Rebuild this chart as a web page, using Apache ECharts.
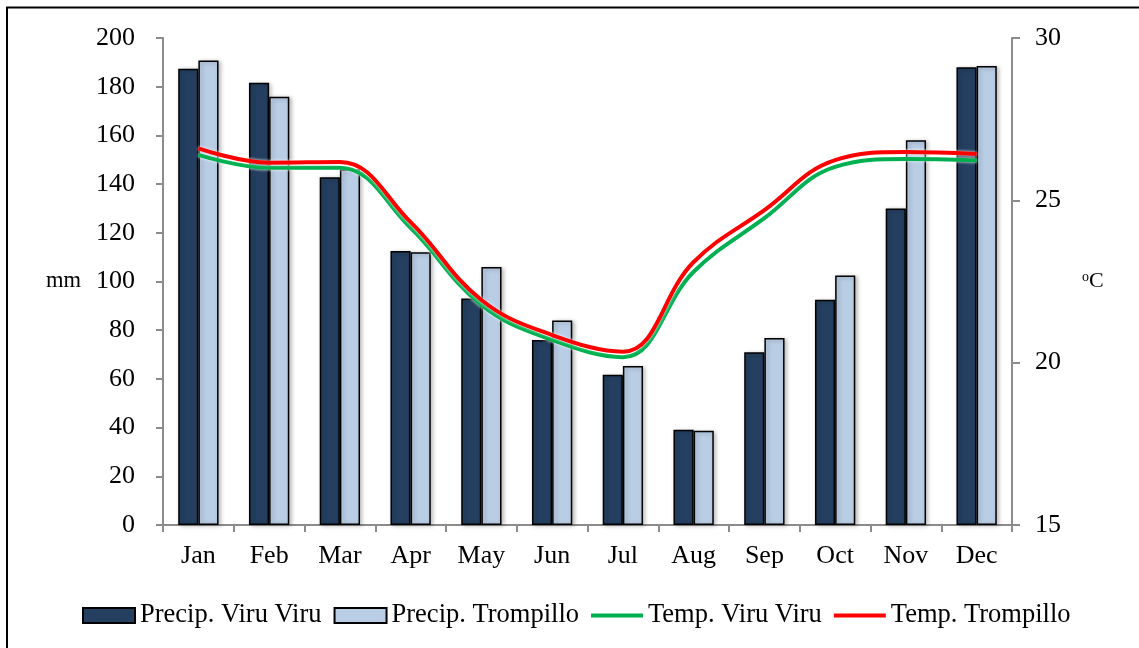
<!DOCTYPE html>
<html>
<head>
<meta charset="utf-8">
<script src="https://cdn.jsdelivr.net/npm/echarts@6/dist/echarts.min.js"></script>
<style>
  html, body { margin: 0; padding: 0; background: #fff; }
  #chart { width: 1139px; height: 648px; }
</style>
</head>
<body>
<div id="chart"></div>
<script>
// Monthly climate: precipitation (mm) and mean temperature (°C) at two stations
const months = ['Jan', 'Feb', 'Mar', 'Apr', 'May', 'Jun', 'Jul', 'Aug', 'Sep', 'Oct', 'Nov', 'Dec'];
const precipViruViru = [187.4, 181.6, 142.8, 112.5, 93, 76, 61.7, 39.1, 70.9, 92.5, 130, 188];
const precipTrompillo = [190.8, 175.9, 146.1, 112, 106, 84, 65.3, 38.7, 76.8, 102.5, 158, 188.5];
const tempViruViru = [26.4, 26.0, 26.0, 24.15, 21.78, 20.7, 20.17, 22.8, 24.45, 26.03, 26.27, 26.23];
const tempTrompillo = [26.6, 26.16, 26.18, 24.33, 21.93, 20.85, 20.34, 23.1, 24.7, 26.24, 26.49, 26.43];
const mmTicks = { min: 0, max: 200, step: 20 };
const degTicks = { min: 15, max: 30, step: 5 };

const FONT = '"Liberation Serif", "Times New Roman", serif';
const axisGrey = '#8c8c8c';
const lineIcon = 'path://M0,0h52v4h-52z';

const chart = echarts.init(document.getElementById('chart'), null, { renderer: 'canvas' });

const barBase = {
  type: 'bar',
  barGap: '0%',
  barCategoryGap: '43%',
  yAxisIndex: 0
};
const lineBase = {
  type: 'line',
  yAxisIndex: 1,
  smooth: 0.4,
  symbol: 'none',
  z: 5
};

chart.setOption({
  animation: false,
  backgroundColor: '#ffffff',
  textStyle: { fontFamily: FONT, color: '#000' },
  graphic: [{
    type: 'rect',
    shape: { x: 7, y: 7.5, width: 1200, height: 700 },
    style: { fill: 'none', stroke: '#000', lineWidth: 2 },
    silent: true
  }],
  grid: { left: 163, right: 127, top: 38, bottom: 123 },
  legend: {
    left: 77,
    top: 597,
    itemWidth: 52,
    itemHeight: 15,
    itemGap: 12,
    textStyle: { fontFamily: FONT, fontSize: 26.5, color: '#000' },
    data: [
      { name: 'Precip. Viru Viru', icon: 'rect' },
      { name: 'Precip. Trompillo', icon: 'rect' },
      { name: 'Temp. Viru Viru', icon: lineIcon, itemStyle: { color: '#00B050', borderWidth: 0 } },
      { name: 'Temp. Trompillo', icon: lineIcon, itemStyle: { color: '#FF0000', borderWidth: 0 } }
    ]
  },
  xAxis: {
    type: 'category',
    data: months,
    boundaryGap: true,
    axisLine: { lineStyle: { color: axisGrey, width: 2 } },
    axisTick: { show: true, length: 7, alignWithLabel: false, lineStyle: { color: axisGrey, width: 2 } },
    axisLabel: { fontFamily: FONT, fontSize: 26, color: '#000', margin: 18 }
  },
  yAxis: [{
    type: 'value',
    min: mmTicks.min,
    max: mmTicks.max,
    interval: mmTicks.step,
    name: 'mm',
    nameLocation: 'middle',
    nameRotate: 0,
    nameGap: 82,
    nameTextStyle: { fontFamily: FONT, fontSize: 22.5, color: '#000' },
    splitLine: { show: false },
    axisLine: { show: true, lineStyle: { color: axisGrey, width: 2 } },
    axisTick: { show: true, length: 7, lineStyle: { color: axisGrey, width: 2 } },
    axisLabel: { fontFamily: FONT, fontSize: 26, color: '#000', margin: 28 }
  }, {
    type: 'value',
    position: 'right',
    min: degTicks.min,
    max: degTicks.max,
    interval: degTicks.step,
    name: '{sup|o}{base|C}',
    nameLocation: 'middle',
    nameRotate: 0,
    nameGap: 70,
    nameTextStyle: {
      rich: {
        sup: { fontFamily: FONT, fontSize: 14, color: '#000', verticalAlign: 'top', padding: [0, 0, 8, 0] },
        base: { fontFamily: FONT, fontSize: 22, color: '#000' }
      }
    },
    splitLine: { show: false },
    axisLine: { show: true, lineStyle: { color: axisGrey, width: 2 } },
    axisTick: { show: true, length: 8, lineStyle: { color: axisGrey, width: 2 } },
    axisLabel: { fontFamily: FONT, fontSize: 26, color: '#000', margin: 23 }
  }],
  series: [
    Object.assign({}, barBase, {
      name: 'Precip. Viru Viru',
      data: precipViruViru,
      itemStyle: {
        color: '#243F60', borderColor: '#000', borderWidth: 1.5,
        shadowColor: 'rgba(0,0,0,0.25)', shadowBlur: 4, shadowOffsetX: 2, shadowOffsetY: 1
      }
    }),
    Object.assign({}, barBase, {
      name: 'Precip. Trompillo',
      data: precipTrompillo,
      itemStyle: {
        color: '#B9CDE5', borderColor: '#000', borderWidth: 1.5,
        shadowColor: 'rgba(0,0,0,0.25)', shadowBlur: 4, shadowOffsetX: 2, shadowOffsetY: 1
      }
    }),
    Object.assign({}, lineBase, {
      name: 'Temp. Viru Viru',
      data: tempViruViru,
      itemStyle: { color: '#00B050' },
      lineStyle: { color: '#00B050', width: 4, shadowColor: '#ffffff', shadowBlur: 3 }
    }),
    Object.assign({}, lineBase, {
      name: 'Temp. Trompillo',
      data: tempTrompillo,
      itemStyle: { color: '#FF0000' },
      lineStyle: { color: '#FF0000', width: 4, shadowColor: '#ffffff', shadowBlur: 3 }
    })
  ]
});
</script>
</body>
</html>
